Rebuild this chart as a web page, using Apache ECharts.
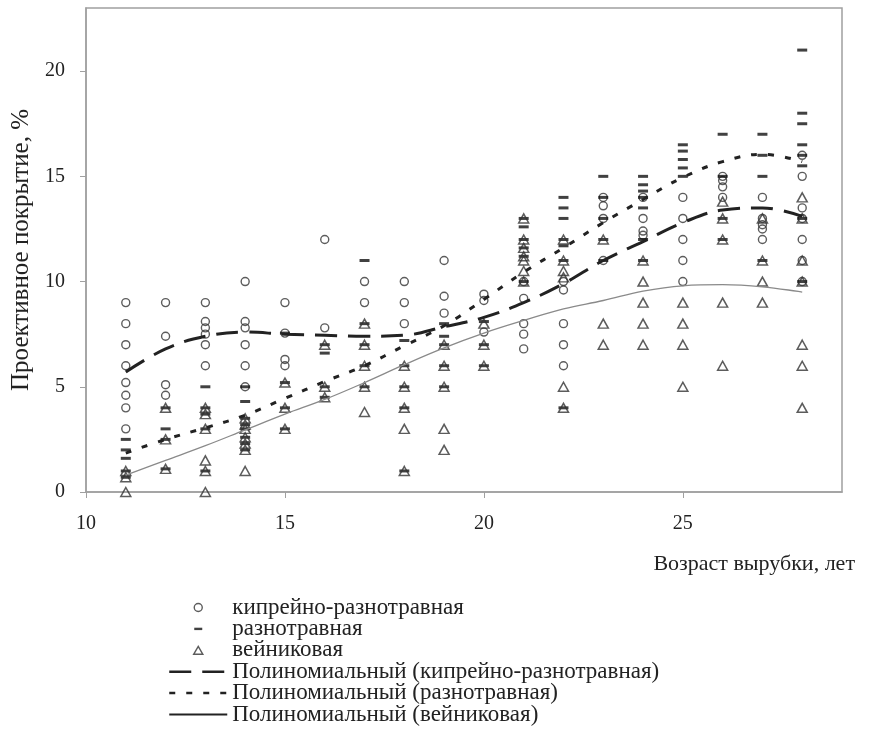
<!DOCTYPE html>
<html>
<head>
<meta charset="utf-8">
<script src="https://cdn.jsdelivr.net/npm/echarts@6/dist/echarts.min.js"></script>
<style>
  html, body { margin: 0; padding: 0; background: #fff; }
  #chart { width: 871px; height: 736px; }
</style>
</head>
<body>
<div id="chart"></div>
<script>
// scatter points: [возраст, покрытие]
const kipreyPoints = [
  [11, 9], [11, 8], [11, 7], [11, 6], [11, 5.2], [11, 4.6], [11, 4], [11, 3],
  [12, 9], [12, 7.4], [12, 5.1], [12, 4.6],
  [13, 9], [13, 8.1], [13, 7.8], [13, 7.5], [13, 7], [13, 6],
  [14, 10], [14, 8.1], [14, 7.8], [14, 7], [14, 6], [14, 5],
  [15, 9], [15, 7.55], [15, 6.3], [15, 6],
  [16, 12], [16, 7.8],
  [17, 10], [17, 9],
  [18, 10], [18, 9], [18, 8],
  [19, 11], [19, 9.3], [19, 8.5],
  [20, 9.4], [20, 9.1], [20, 7.6],
  [21, 10], [21, 9.2], [21, 8], [21, 7.5], [21, 6.8],
  [22, 10], [22, 9.6], [22, 8], [22, 7], [22, 6],
  [23, 14], [23, 13.6], [23, 13], [23, 11],
  [24, 14], [24, 13], [24, 12.4], [24, 12.2],
  [25, 14], [25, 13], [25, 12], [25, 11], [25, 10],
  [26, 15], [26, 14.8], [26, 14.5], [26, 14],
  [27, 14], [27, 13], [27, 12.7], [27, 12.5], [27, 12],
  [28, 16], [28, 15], [28, 13.5], [28, 13], [28, 12], [28, 11], [28, 10]
];
const raznoPoints = [
  [11, 2.5], [11, 2], [11, 1.6], [11, 1], [11, 0.7],
  [12, 4], [12, 3], [12, 2.5], [12, 1.1],
  [13, 5], [13, 4], [13, 3.7], [13, 3], [13, 1],
  [14, 5], [14, 4.3], [14, 3.5], [14, 3.2], [14, 3], [14, 2.6], [14, 2.3], [14, 2],
  [15, 7.55], [15, 5.2], [15, 4], [15, 3],
  [16, 7], [16, 6.6], [16, 5], [16, 4.5],
  [17, 11], [17, 8], [17, 7], [17, 6], [17, 5],
  [18, 7.2], [18, 6], [18, 5], [18, 4], [18, 1],
  [19, 8], [19, 7.4], [19, 7], [19, 6], [19, 5],
  [20, 8.1], [20, 7], [20, 6],
  [21, 13], [21, 12.6], [21, 12], [21, 11.6], [21, 11.2], [21, 10],
  [22, 14], [22, 13.5], [22, 13], [22, 12], [22, 11.7], [22, 11], [22, 4],
  [23, 15], [23, 14], [23, 13], [23, 12], [23, 11],
  [24, 15], [24, 14.6], [24, 14.3], [24, 14], [24, 13.5], [24, 12], [24, 11],
  [25, 16.5], [25, 16.2], [25, 15.8], [25, 15.4], [25, 15],
  [26, 17], [26, 15], [26, 13], [26, 12],
  [27, 17], [27, 16], [27, 15], [27, 11],
  [28, 21], [28, 18], [28, 17.5], [28, 16.5], [28, 16], [28, 15.5], [28, 13], [28, 10]
];
const veinikPoints = [
  [11, 1], [11, 0.7], [11, 0],
  [12, 4], [12, 2.5], [12, 1.1],
  [13, 4], [13, 3.7], [13, 3], [13, 1.5], [13, 1], [13, 0],
  [14, 3.5], [14, 3.2], [14, 3], [14, 2.6], [14, 2.3], [14, 2], [14, 1],
  [15, 5.2], [15, 4], [15, 3],
  [16, 7], [16, 5], [16, 4.5],
  [17, 8], [17, 7], [17, 6], [17, 5], [17, 3.8],
  [18, 6], [18, 5], [18, 4], [18, 3], [18, 1],
  [19, 7], [19, 6], [19, 5], [19, 3], [19, 2],
  [20, 8], [20, 7], [20, 6],
  [21, 13], [21, 12], [21, 11.6], [21, 11.2], [21, 11], [21, 10.5], [21, 10],
  [22, 12], [22, 11], [22, 10.5], [22, 10.2], [22, 5], [22, 4],
  [23, 12], [23, 8], [23, 7],
  [24, 11], [24, 10], [24, 9], [24, 8], [24, 7],
  [25, 9], [25, 8], [25, 7], [25, 5],
  [26, 13.8], [26, 13], [26, 12], [26, 9], [26, 6],
  [27, 13], [27, 11], [27, 10], [27, 9],
  [28, 14], [28, 13], [28, 11], [28, 10], [28, 7], [28, 6], [28, 4]
];

// polynomial trends read at each age
const trendAges = [11, 12, 13, 14, 15, 16, 17, 18, 19, 20, 21, 22, 23, 24, 25, 26, 27, 28];
const kipreyTrend = [5.7, 6.8, 7.4, 7.6, 7.5, 7.45, 7.4, 7.45, 7.85, 8.3, 9.0, 9.9, 11.0, 11.9, 12.8, 13.4, 13.5, 13.1];
const raznoTrend = [1.85, 2.5, 3.05, 3.65, 4.45, 5.25, 6.0, 6.95, 7.9, 9.15, 10.45, 11.6, 12.8, 13.9, 14.95, 15.7, 16.05, 15.7];
const veinikTrend = [0.8, 1.5, 2.2, 2.95, 3.7, 4.4, 5.2, 6.05, 6.85, 7.55, 8.15, 8.7, 9.1, 9.55, 9.8, 9.85, 9.75, 9.5];

const yTicks = [0, 5, 10, 15, 20];
const xTicks = [10, 15, 20, 25];

const names = [
  'кипрейно-разнотравная',
  'разнотравная',
  'вейниковая',
  'Полиномиальный (кипрейно-разнотравная)',
  'Полиномиальный (разнотравная)',
  'Полиномиальный (вейниковая)'
];

const FONT = 'Liberation Serif';
const axisGray = '#a0a0a0';
const dashSymbol = 'path://M0,0 M10,10 M0,3.5 L10,3.5 L10,6.5 L0,6.5 Z';
const triSymbol = 'path://M5,0 L10,8.7 L0,8.7 Z';
const noDot = { color: 'rgba(0,0,0,0)', borderWidth: 0 };

const pairs = (xs, ys) => xs.map((x, i) => [x, ys[i]]);

const chart = echarts.init(document.getElementById('chart'));

const option = {
  animation: false,
  backgroundColor: '#fff',
  textStyle: { fontFamily: FONT, color: '#222' },
  grid: {
    left: 86, right: 29, top: 8, bottom: 244,
    show: true, borderColor: axisGray, borderWidth: 1.5, backgroundColor: 'transparent'
  },
  legend: {
    orient: 'vertical',
    left: 168,
    top: 596,
    height: 140,
    padding: 0,
    itemWidth: 58,
    itemHeight: 8,
    itemGap: -1.6,
    textStyle: { fontFamily: FONT, fontSize: 23, color: '#222' },
    data: [
      { name: names[0], itemStyle: { borderWidth: 1.4 } },
      { name: names[1], itemStyle: { borderWidth: 0 } },
      { name: names[2], itemStyle: { borderWidth: 1.4 } },
      { name: names[3], itemStyle: noDot, lineStyle: { width: 2.5 } },
      { name: names[4], itemStyle: noDot, lineStyle: { width: 2.5 } },
      { name: names[5], itemStyle: noDot, lineStyle: { width: 2, color: '#222' } }
    ]
  },
  xAxis: {
    type: 'value',
    min: 10, max: 29, interval: 5,
    name: 'Возраст вырубки, лет',
    nameLocation: 'end',
    nameGap: 13,
    nameTextStyle: { fontFamily: FONT, fontSize: 22, color: '#222', align: 'right', verticalAlign: 'top', padding: [61, 0, 0, 0] },
    axisLine: { show: true, lineStyle: { color: axisGray, width: 1.5 } },
    axisTick: { show: true, length: 6, lineStyle: { color: axisGray }, customValues: xTicks },
    axisLabel: { fontFamily: FONT, fontSize: 20, color: '#222', margin: 22, customValues: xTicks },
    splitLine: { show: false }
  },
  yAxis: {
    type: 'value',
    min: 0, max: 23, interval: 5,
    name: 'Проективное покрытие, %',
    nameLocation: 'middle',
    nameGap: 52,
    nameRotate: 90,
    nameTextStyle: { fontFamily: FONT, fontSize: 25, color: '#222' },
    axisLine: { show: true, lineStyle: { color: axisGray, width: 1.5 } },
    axisTick: { show: true, length: 6, lineStyle: { color: axisGray }, customValues: yTicks },
    axisLabel: { fontFamily: FONT, fontSize: 20, color: '#222', margin: 21, customValues: yTicks },
    splitLine: { show: false }
  },
  series: [
    {
      name: names[0],
      type: 'scatter',
      symbol: 'circle',
      symbolSize: 8,
      itemStyle: { color: 'rgba(255,255,255,0)', borderColor: '#333', borderWidth: 1.4 },
      data: kipreyPoints
    },
    {
      name: names[1],
      type: 'scatter',
      symbol: dashSymbol,
      symbolSize: [10, 10],
      itemStyle: { color: '#111' },
      data: raznoPoints
    },
    {
      name: names[2],
      type: 'scatter',
      symbol: triSymbol,
      symbolSize: [10, 9],
      itemStyle: { color: 'rgba(255,255,255,0)', borderColor: '#333', borderWidth: 1.5 },
      data: veinikPoints
    },
    {
      name: names[3],
      type: 'line',
      smooth: 0.4,
      symbol: 'none',
      itemStyle: { color: '#222' },
      lineStyle: { color: '#222', width: 3, type: [22, 11] },
      data: pairs(trendAges, kipreyTrend)
    },
    {
      name: names[4],
      type: 'line',
      smooth: 0.4,
      symbol: 'none',
      itemStyle: { color: '#222' },
      lineStyle: { color: '#222', width: 3, type: [6, 11] },
      data: pairs(trendAges, raznoTrend)
    },
    {
      name: names[5],
      type: 'line',
      smooth: 0.4,
      symbol: 'none',
      itemStyle: { color: '#8a8a8a' },
      lineStyle: { color: '#8a8a8a', width: 1.3 },
      data: pairs(trendAges, veinikTrend)
    }
  ]
};

chart.setOption(option);
</script>
</body>
</html>
